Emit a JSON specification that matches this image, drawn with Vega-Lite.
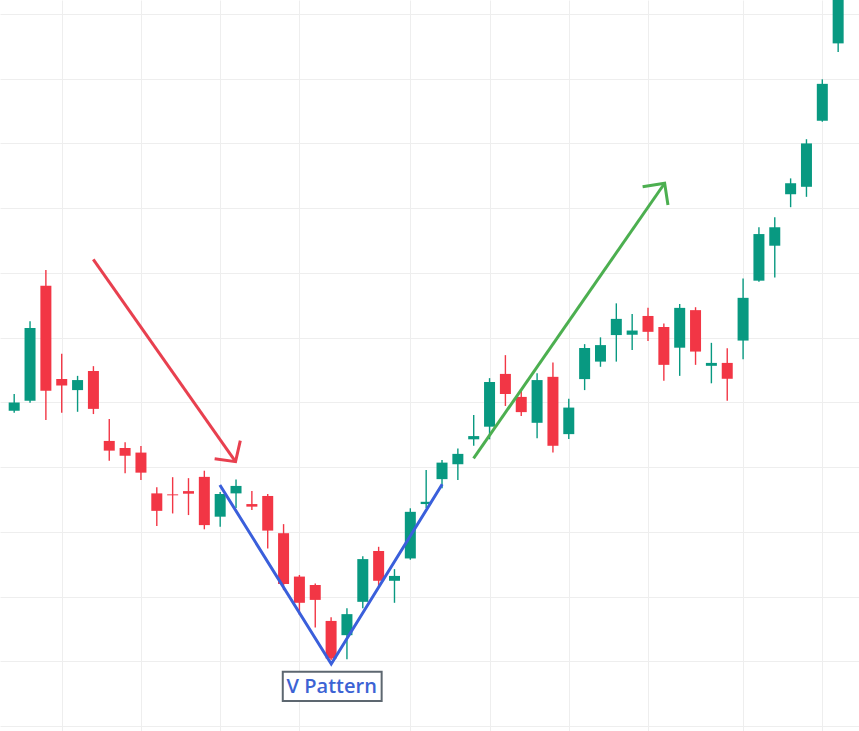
{
  "$schema": "https://vega.github.io/schema/vega-lite/v6.json",
  "width": 859,
  "height": 731,
  "autosize": {"type": "none"},
  "padding": 0,
  "background": "#ffffff",
  "config": {"view": {"stroke": null}},
  "datasets": {
    "candles": [
      {"i":0,"o":197.4,"h":202.6,"l":196.8,"c":200.0},
      {"i":1,"o":200.5,"h":225.1,"l":199.9,"c":223.0},
      {"i":2,"o":236.0,"h":240.9,"l":194.6,"c":203.6},
      {"i":3,"o":207.2,"h":215.0,"l":196.8,"c":205.2},
      {"i":4,"o":203.8,"h":208.2,"l":197.1,"c":206.9},
      {"i":5,"o":209.7,"h":211.2,"l":196.4,"c":198.0},
      {"i":6,"o":188.1,"h":194.9,"l":182.0,"c":185.1},
      {"i":7,"o":185.9,"h":187.7,"l":178.1,"c":183.5},
      {"i":8,"o":184.5,"h":186.5,"l":176.0,"c":178.3},
      {"i":9,"o":171.9,"h":173.8,"l":161.8,"c":166.5},
      {"i":10,"o":171.6,"h":176.9,"l":165.7,"c":171.3},
      {"i":11,"o":172.6,"h":176.6,"l":165.2,"c":171.8},
      {"i":12,"o":177.0,"h":178.9,"l":160.8,"c":162.1},
      {"i":13,"o":164.7,"h":172.3,"l":161.6,"c":171.7},
      {"i":14,"o":171.9,"h":176.2,"l":167.4,"c":174.2},
      {"i":15,"o":168.6,"h":172.6,"l":166.8,"c":167.8},
      {"i":16,"o":171.1,"h":171.7,"l":154.9,"c":160.4},
      {"i":17,"o":159.6,"h":162.4,"l":142.0,"c":143.9},
      {"i":18,"o":146.2,"h":146.7,"l":134.3,"c":138.1},
      {"i":19,"o":143.6,"h":144.1,"l":130.5,"c":139.0},
      {"i":20,"o":132.5,"h":133.6,"l":120.4,"c":120.9},
      {"i":21,"o":128.1,"h":136.4,"l":120.7,"c":134.6},
      {"i":22,"o":138.4,"h":152.5,"l":136.4,"c":151.6},
      {"i":23,"o":154.1,"h":155.4,"l":143.1,"c":144.9},
      {"i":24,"o":144.9,"h":148.5,"l":138.1,"c":146.4},
      {"i":25,"o":151.8,"h":167.3,"l":151.4,"c":166.2},
      {"i":26,"o":168.6,"h":179.1,"l":167.4,"c":169.3},
      {"i":27,"o":176.3,"h":182.2,"l":173.5,"c":181.4},
      {"i":28,"o":180.9,"h":185.8,"l":176.0,"c":184.1},
      {"i":29,"o":188.6,"h":196.1,"l":186.6,"c":189.6},
      {"i":30,"o":192.5,"h":207.5,"l":188.6,"c":206.3},
      {"i":31,"o":208.8,"h":214.6,"l":198.9,"c":202.6},
      {"i":32,"o":201.7,"h":203.8,"l":195.8,"c":197.0},
      {"i":33,"o":193.7,"h":209.0,"l":188.9,"c":206.9},
      {"i":34,"o":207.9,"h":212.3,"l":184.5,"c":186.6},
      {"i":35,"o":190.2,"h":201.1,"l":188.7,"c":198.4},
      {"i":36,"o":207.2,"h":218.0,"l":203.8,"c":216.8},
      {"i":37,"o":212.6,"h":220.1,"l":211.0,"c":217.7},
      {"i":38,"o":220.8,"h":230.6,"l":212.6,"c":225.8},
      {"i":39,"o":220.9,"h":227.3,"l":216.2,"c":222.2},
      {"i":40,"o":226.7,"h":229.2,"l":219.0,"c":221.8},
      {"i":41,"o":223.3,"h":224.4,"l":206.7,"c":211.6},
      {"i":42,"o":216.9,"h":230.4,"l":208.2,"c":229.2},
      {"i":43,"o":228.5,"h":229.4,"l":211.6,"c":215.7},
      {"i":44,"o":211.3,"h":218.4,"l":205.9,"c":212.2},
      {"i":45,"o":212.2,"h":216.7,"l":200.5,"c":207.3},
      {"i":46,"o":219.1,"h":238.3,"l":213.3,"c":232.3},
      {"i":47,"o":237.6,"h":254.1,"l":237.3,"c":252.0},
      {"i":48,"o":248.4,"h":257.2,"l":238.6,"c":254.1},
      {"i":49,"o":264.3,"h":269.2,"l":260.3,"c":267.7},
      {"i":50,"o":266.6,"h":281.3,"l":263.5,"c":280.0},
      {"i":51,"o":287.0,"h":299.8,"l":286.7,"c":298.4},
      {"i":52,"o":310.9,"h":327.0,"l":308.2,"c":326.0}
    ],
    "lines": [
      {"g":"red","k":0,"i":4.99,"p":244.2},
      {"g":"red","k":1,"i":13.97,"p":181.7},
      {"g":"redhead","k":0,"i":12.65,"p":182.6},
      {"g":"redhead","k":1,"i":13.97,"p":181.7},
      {"g":"redhead","k":2,"i":14.27,"p":188.2},
      {"g":"blue","k":0,"i":12.98,"p":174.5},
      {"g":"blue","k":1,"i":20.01,"p":119.2},
      {"g":"blue","k":2,"i":27.01,"p":174.7},
      {"g":"green","k":0,"i":28.99,"p":182.7},
      {"g":"green","k":1,"i":41.05,"p":267.7},
      {"g":"greenhead","k":0,"i":39.66,"p":266.6},
      {"g":"greenhead","k":1,"i":41.05,"p":267.7},
      {"g":"greenhead","k":2,"i":41.26,"p":261.0}
    ],
    "labels": [
      {"text":"V Pattern","i":20.04,"p":112.2,"i1":16.95,"i2":23.19,"p1":107.8,"p2":116.8}
    ]
  },
  "encoding": {
    "x": {
      "field": "i", "type": "quantitative",
      "scale": {"domain": [-0.58, 53.0], "nice": false, "zero": false},
      "axis": {"values": [3, 8, 13, 18, 25, 30, 35, 40, 46, 51], "grid": true, "gridColor": "#eeeeee", "labels": false, "ticks": false, "domain": false, "title": null}
    }
  },
  "layer": [
    {
      "data": {"name": "candles"},
      "mark": {"type": "rule", "strokeWidth": 1.4, "clip": true},
      "encoding": {
        "y": {
          "field": "l", "type": "quantitative",
          "scale": {"domain": [98.5, 324.3], "nice": false, "zero": false},
          "axis": {"values": [100,110,120,130,140,150,160,170,180,190,200,210,220,230,240,250,260,270,280,290,300,310,320], "grid": true, "gridColor": "#eeeeee", "labels": false, "ticks": false, "domain": false, "title": null}
        },
        "y2": {"field": "h"},
        "color": {"condition": {"test": "datum.c >= datum.o", "value": "#089981"}, "value": "#f23645"}
      }
    },
    {
      "data": {"name": "candles"},
      "mark": {"type": "bar", "size": 11, "clip": true},
      "encoding": {
        "y": {"field": "o", "type": "quantitative"},
        "y2": {"field": "c"},
        "color": {"condition": {"test": "datum.c >= datum.o", "value": "#089981"}, "value": "#f23645"}
      }
    },
    {
      "data": {"name": "lines"},
      "mark": {"type": "line", "strokeWidth": 3, "strokeCap": "butt", "strokeJoin": "miter"},
      "encoding": {
        "y": {"field": "p", "type": "quantitative"},
        "order": {"field": "k"},
        "detail": {"field": "g"},
        "color": {
          "field": "g", "type": "nominal", "legend": null,
          "scale": {"domain": ["red","redhead","blue","green","greenhead"], "range": ["#e8404f","#e8404f","#3a5fdb","#4caf50","#4caf50"]}
        }
      }
    },
    {
      "data": {"name": "labels"},
      "mark": {"type": "rect", "fill": "#ffffff", "stroke": "#5d6770", "strokeWidth": 2},
      "encoding": {
        "x": {"field": "i1", "type": "quantitative"},
        "x2": {"field": "i2"},
        "y": {"field": "p1", "type": "quantitative"},
        "y2": {"field": "p2"}
      }
    },
    {
      "data": {"name": "labels"},
      "mark": {"type": "text", "font": "Open Sans", "fontSize": 20, "fontWeight": 600, "color": "#3c63d4", "align": "center", "baseline": "middle"},
      "encoding": {
        "y": {"field": "p", "type": "quantitative"},
        "text": {"field": "text"}
      }
    }
  ]
}
